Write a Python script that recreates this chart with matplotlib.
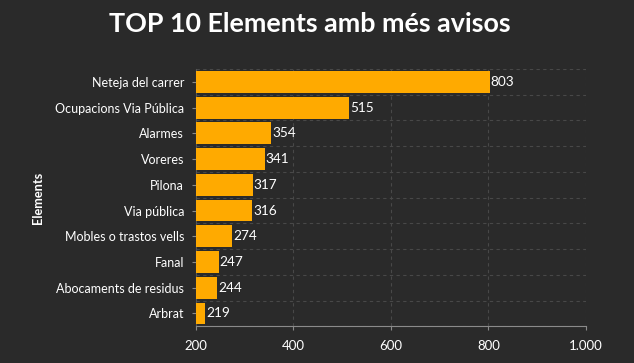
import matplotlib
matplotlib.use("Agg")
import matplotlib.pyplot as plt
from matplotlib.ticker import FuncFormatter, MultipleLocator

# Data
elements = [
    "Neteja del carrer",
    "Ocupacions Via Pública",
    "Alarmes",
    "Voreres",
    "Pilona",
    "Via pública",
    "Mobles o trastos vells",
    "Fanal",
    "Abocaments de residus",
    "Arbrat",
]
avisos = [803, 515, 354, 341, 317, 316, 274, 247, 244, 219]
x_ticks = [200, 400, 600, 800, 1000]

bg = "#2a2a2a"
bar_color = "#ffaa00"
grid_color = "#484848"
axis_color = "#8a8a8a"

plt.rcParams["font.family"] = ["Lato", "DejaVu Sans"]

fig = plt.figure(figsize=(6.34, 3.63), dpi=100, facecolor=bg)
ax = fig.add_axes([0.309, 0.101, 0.615, 0.709], facecolor=bg)

y = list(range(len(elements)))
bars = ax.barh(y, avisos, height=0.85, color=bar_color, zorder=3)

for yi, v in zip(y, avisos):
    ax.text(v + 2, yi, str(v), va="center", ha="left", color="white",
            fontsize=9.8, zorder=4)

ax.set_xlim(200, 1000)
ax.set_ylim(len(elements) - 0.5, -0.5)
ax.set_yticks(y)
ax.set_yticklabels(elements)
ax.set_xticks(x_ticks)
ax.xaxis.set_major_formatter(
    FuncFormatter(lambda v, p: f"{int(v):,}".replace(",", ".")))

# dashed grid: vertical at x ticks, horizontal at band edges
ax.yaxis.set_minor_locator(MultipleLocator(1, offset=0.5))
ax.grid(axis="x", which="major", color=grid_color, linestyle=(0, (3, 3)),
        linewidth=0.8, zorder=0)
ax.grid(axis="y", which="minor", color=grid_color, linestyle=(0, (3, 3)),
        linewidth=0.8, zorder=0)
ax.tick_params(axis="y", which="minor", length=0)

ax.tick_params(axis="both", which="major", colors=axis_color,
               labelcolor="white", labelsize=9.0, length=3, width=0.8)
ax.tick_params(axis="y", pad=5.5)
ax.tick_params(axis="x", pad=7, labelsize=9.5)

for s in ["top", "right"]:
    ax.spines[s].set_visible(False)
ax.spines["bottom"].set_color(axis_color)
ax.spines["left"].set_color("#555555")
ax.spines["left"].set_linewidth(0.8)

ax.set_ylabel("Elements", color="white", fontsize=9.2, fontweight="bold",
              labelpad=8)

fig.text(0.488, 0.935, "TOP 10 Elements amb més avisos", ha="center",
         va="center", color="white", fontsize=19.4, fontweight="bold")

fig.savefig("out.png", dpi=100, facecolor=bg)
